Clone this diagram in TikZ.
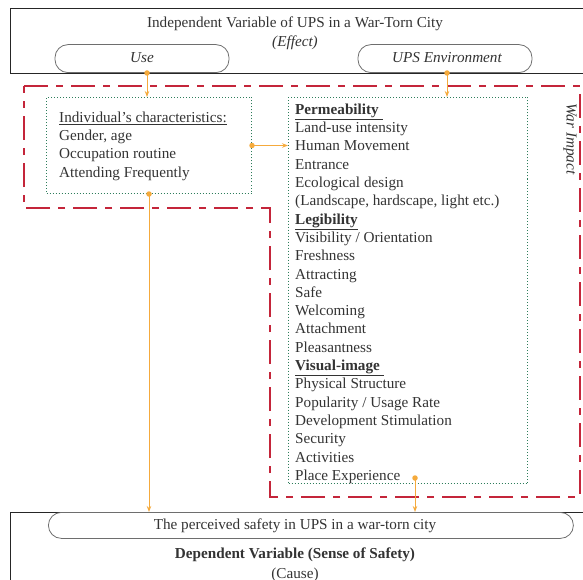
\documentclass[tikz,border=0pt]{standalone}
\usepackage{fontspec}
\setmainfont{Liberation Serif}
\usetikzlibrary{arrows.meta}
\definecolor{warred}{HTML}{C4253A}
\definecolor{boxgreen}{HTML}{2E7D5B}
\definecolor{arrorange}{HTML}{F5AA3C}
\definecolor{pillgray}{HTML}{6E6E6E}
\definecolor{textgray}{HTML}{333333}
\newcommand{\dfont}{\fontsize{15.2}{18.3}\selectfont}
\begin{document}
\begin{tikzpicture}[x=1pt,y=-1pt,
  redline/.style={draw=warred, line width=2.5pt, dash pattern=on 24pt off 8pt on 7pt off 8pt},
  greenbox/.style={draw=boxgreen, dash pattern=on 1pt off 2pt, line width=1pt, inner sep=0pt},
  pill/.style={draw=pillgray, rounded corners=13pt, line width=0.8pt, inner sep=0pt},
  frame/.style={draw=black!85, line width=0.9pt, inner sep=0pt},
  conn/.style={draw=arrorange, line width=1pt, -{Stealth[length=6pt,width=4.5pt]}},
  dotstart/.style={circle, fill=arrorange, inner sep=0pt, minimum size=5.5pt},
  txt/.style={font=\dfont, text=textgray, inner sep=0pt},
  ittxt/.style={txt, font=\dfont\itshape},
  listtxt/.style={txt, align=left, anchor=north west}]

\useasboundingbox (0,0) rectangle (583,580);

% top frame (extends past the right edge)
\node[frame, anchor=north west, minimum width=600pt, minimum height=65pt] (topbox) at (10,8) {};
\node[txt, anchor=base] (title) at (295,28) {Independent Variable of UPS in a War-Torn City};
\node[ittxt, anchor=base] (effect) at (295,47) {(Effect)};
\node[pill, anchor=south, minimum width=174pt, minimum height=28pt] (use) at (142,73) {};
\node[ittxt, anchor=base] (usetxt) at (142,63) {Use};
\node[pill, anchor=south, minimum width=174pt, minimum height=28pt] (ups) at (445,73) {};
\node[ittxt, anchor=base] (upstxt) at (447,63) {UPS Environment};

% war impact region
\draw[redline] (24,86) -- (580,86) -- (580,497) -- (270,497) -- (270,208) -- (24,208) -- cycle;
\node[ittxt, rotate=-90] (war) at (570,139) {War Impact};

% left box
\node[greenbox, anchor=north west, minimum width=205pt, minimum height=96pt] (indiv) at (46,97) {};
\node[listtxt] (indivtxt) at (59,111.6) {\underline{Individual’s characteristics:}\\Gender, age\\Occupation routine\\Attending Frequently};

% right box
\node[greenbox, anchor=north west, minimum width=239pt, minimum height=386pt] (env) at (288,97) {};
\node[listtxt] (envtxt) at (295,103.6) {\underline{\textbf{Permeability\ }}\\Land-use intensity\\Human Movement\\Entrance\\Ecological design\\(Landscape, hardscape, light etc.)\\\underline{\textbf{Legibility}}\\Visibility / Orientation\\Freshness\\Attracting\\Safe\\Welcoming\\Attachment\\Pleasantness\\\underline{\textbf{Visual-image\ }}\\Physical Structure\\Popularity / Usage Rate\\Development Stimulation\\Security\\Activities\\Place Experience};

% bottom frame
\node[frame, anchor=north west, minimum width=600pt, minimum height=100pt] (botbox) at (10,512) {};
\node[pill, anchor=north west, minimum width=525pt, minimum height=26pt] (safety) at (48,512) {};
\node[txt, anchor=base] (safetytxt) at (295,529) {The perceived safety in UPS in a war-torn city};
\node[txt, anchor=base, font=\dfont\bfseries] (dep) at (295,558) {Dependent Variable (Sense of Safety)};
\node[txt, anchor=base] (cause) at (295,578) {(Cause)};

% connectors
\node[dotstart] (d1) at (147,73) {};
\draw[conn] (d1.center) -- (d1 |- indiv.north);
\node[dotstart] (d2) at (447,73) {};
\draw[conn] (d2.center) -- (d2 |- env.north);
\node[dotstart] (d3) at (indiv.east) {};
\draw[conn] (d3.center) -- (d3 -| env.west);
\node[dotstart] (d4) at (indiv.south) {};
\draw[conn] (d4.center) -- (d4 |- safety.north);
\node[dotstart] (d5) at (415,478) {};
\draw[conn] (d5.center) -- (d5 |- safety.north);
\end{tikzpicture}
\end{document}
